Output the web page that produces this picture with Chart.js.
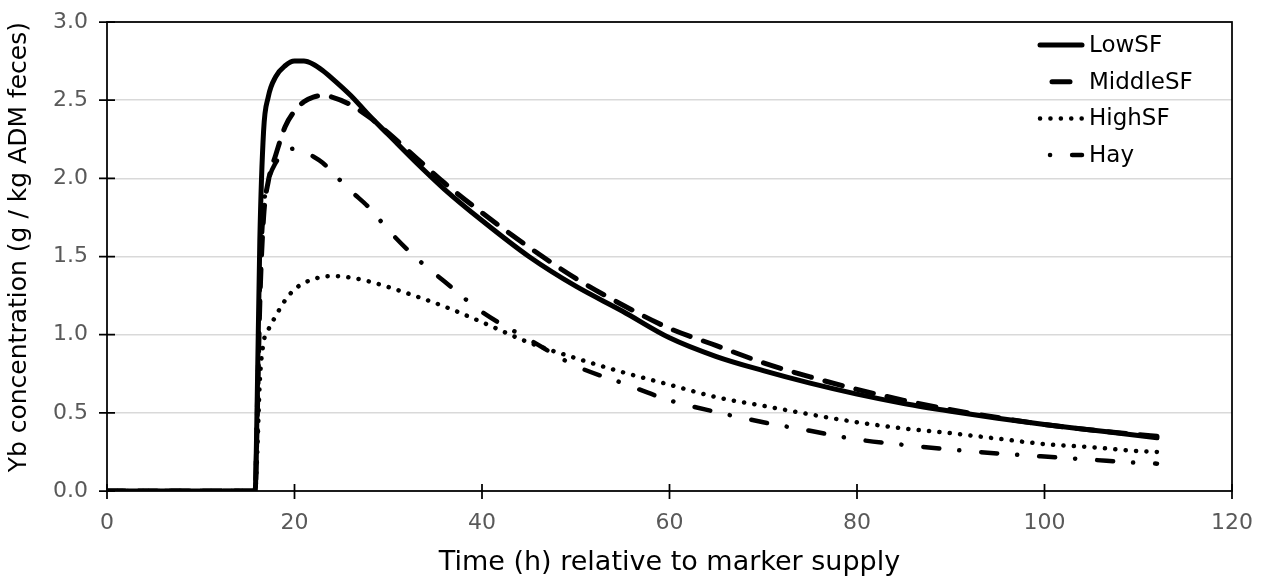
<!DOCTYPE html>
<html>
<head>
<meta charset="utf-8">
<script src="https://cdn.jsdelivr.net/npm/chart.js@4.4.1/dist/chart.umd.min.js"></script>
<style>
  html, body { margin: 0; padding: 0; background: #fff; }
  #wrap { width: 1271px; height: 580px; }
</style>
</head>
<body>
<div id="wrap"><canvas id="chart"></canvas></div>
<script>
// Time points (h) shared by all series
const timeHours = [0, 15.8, 16, 16.3, 16.7, 17.2, 18, 19, 20, 21, 22, 23, 24, 26, 28, 30, 33, 36, 40, 45,
    50, 55, 60, 65, 70, 75, 80, 85, 90, 95, 100, 105, 110, 112];

const lowSF = [0, 0, 0.5, 1.6, 2.3, 2.52, 2.65, 2.72, 2.75, 2.75, 2.73, 2.69, 2.64, 2.53, 2.40, 2.28, 2.10, 1.93, 1.73, 1.50,
    1.31, 1.15, 0.98, 0.86, 0.77, 0.69, 0.62, 0.56, 0.51, 0.465, 0.425, 0.39, 0.355, 0.34];

const middleSF = [0, 0, 0.4, 1.2, 1.75, 1.98, 2.15, 2.33, 2.43, 2.49, 2.52, 2.53, 2.52, 2.47, 2.39, 2.29, 2.13, 1.97, 1.78, 1.56,
    1.36, 1.19, 1.04, 0.93, 0.82, 0.73, 0.65, 0.58, 0.52, 0.47, 0.425, 0.39, 0.36, 0.35];

const highSF = [0, 0, 0.2, 0.7, 0.95, 1.03, 1.12, 1.22, 1.29, 1.33, 1.355, 1.37, 1.375, 1.365, 1.34, 1.305, 1.245, 1.18, 1.08, 0.95,
    0.85, 0.76, 0.68, 0.60, 0.545, 0.49, 0.44, 0.40, 0.37, 0.335, 0.30, 0.28, 0.255, 0.25];

const hay = [0, 0, 0.5, 1.3, 1.8, 1.98, 2.1, 2.17, 2.19, 2.17, 2.14, 2.10, 2.04, 1.92, 1.81, 1.67, 1.49, 1.34, 1.145, 0.97,
    0.80, 0.69, 0.58, 0.505, 0.44, 0.385, 0.33, 0.295, 0.265, 0.24, 0.22, 0.20, 0.18, 0.175];

const xTicks = [0, 20, 40, 60, 80, 100, 120];
const yTicks = [0, 0.5, 1.0, 1.5, 2.0, 2.5, 3.0];

const FONT = '"DejaVu Sans", Verdana, sans-serif';

function toPoints(values) {
    return timeHours.map((t, i) => ({ x: t, y: values[i] }));
}

function series(label, values, dash, width) {
    return {
        label,
        data: toPoints(values),
        borderColor: '#000000',
        backgroundColor: '#000000',
        borderWidth: width,
        borderDash: dash,
        borderCapStyle: 'round',
        borderJoinStyle: 'round',
        pointRadius: 0,
        cubicInterpolationMode: 'monotone',
        fill: false
    };
}

// dash offsets so the legend samples look like the original
const legendOffsets = [0, 20, 0, 26];

// frame, crossing tick marks and the legend inside the plot
const framePlugin = {
    id: 'frame',
    afterDatasetsDraw(chart) {
        const { ctx, chartArea: a, scales } = chart;
        ctx.save();
        ctx.strokeStyle = '#000';
        ctx.lineWidth = 1.75;
        ctx.setLineDash([]);
        ctx.strokeRect(a.left, a.top, a.right - a.left, a.bottom - a.top);

        ctx.beginPath();
        xTicks.forEach(v => {
            const px = scales.x.getPixelForValue(v);
            ctx.moveTo(px, a.bottom - 7);
            ctx.lineTo(px, a.bottom + 8);
        });
        yTicks.forEach(v => {
            const py = scales.y.getPixelForValue(v);
            ctx.moveTo(a.left - 8, py);
            ctx.lineTo(a.left + 8, py);
        });
        ctx.stroke();

        // legend
        const x0 = a.right - 192, x1 = a.right - 150;
        ctx.font = '23px ' + FONT;
        ctx.textBaseline = 'middle';
        ctx.fillStyle = '#000';
        chart.data.datasets.forEach((ds, i) => {
            const y = a.top + 23 + i * 36.7;
            ctx.beginPath();
            ctx.lineWidth = ds.borderWidth;
            ctx.lineCap = 'round';
            ctx.setLineDash(ds.borderDash || []);
            ctx.lineDashOffset = legendOffsets[i];
            ctx.moveTo(x0, y);
            ctx.lineTo(x1, y);
            ctx.stroke();
            ctx.fillText(ds.label, x1 + 7, y + 1);
        });
        ctx.restore();
    }
};

function noOverflow(scale) {
    scale.paddingTop = 0;
    scale.paddingBottom = 0;
    scale.paddingLeft = 0;
    scale.paddingRight = 0;
}

new Chart(document.getElementById('chart'), {
    type: 'line',
    data: {
        datasets: [
            series('LowSF', lowSF, [], 5),
            series('MiddleSF', middleSF, [18, 14], 5),
            series('HighSF', highSF, [0.1, 10.3], 4.5),
            series('Hay', hay, [16, 20, 0.1, 22], 4.5)
        ]
    },
    options: {
        responsive: true,
        maintainAspectRatio: false,
        animation: false,
        layout: { padding: { top: 22, right: 39, left: 0, bottom: 1 } },
        plugins: {
            legend: { display: false },
            tooltip: { enabled: false }
        },
        scales: {
            x: {
                type: 'linear',
                min: 0,
                max: 120,
                afterFit: scale => { scale.height = 88; noOverflow(scale); },
                afterBuildTicks: scale => { scale.ticks = xTicks.map(v => ({ value: v })); },
                grid: { display: false, drawTicks: false },
                border: { display: false },
                ticks: {
                    color: '#595959',
                    font: { family: FONT, size: 22 },
                    padding: 19,
                    maxRotation: 0
                },
                title: {
                    display: true,
                    text: 'Time (h) relative to marker supply',
                    color: '#000',
                    font: { family: FONT, size: 27 },
                    padding: { top: 4, bottom: 0 }
                }
            },
            y: {
                min: 0,
                max: 3,
                afterFit: scale => { scale.width = 107; noOverflow(scale); },
                afterBuildTicks: scale => { scale.ticks = yTicks.map(v => ({ value: v })); },
                grid: { color: '#d9d9d9', lineWidth: 1.5, drawTicks: false },
                border: { display: false },
                ticks: {
                    color: '#595959',
                    font: { family: FONT, size: 22 },
                    padding: 19,
                    callback: v => v.toFixed(1)
                },
                title: {
                    display: true,
                    text: 'Yb concentration (g / kg ADM feces)',
                    color: '#000',
                    align: 'end',
                    font: { family: FONT, size: 25 },
                    padding: { top: 4, bottom: 4 }
                }
            }
        }
    },
    plugins: [framePlugin]
});
</script>
</body>
</html>
